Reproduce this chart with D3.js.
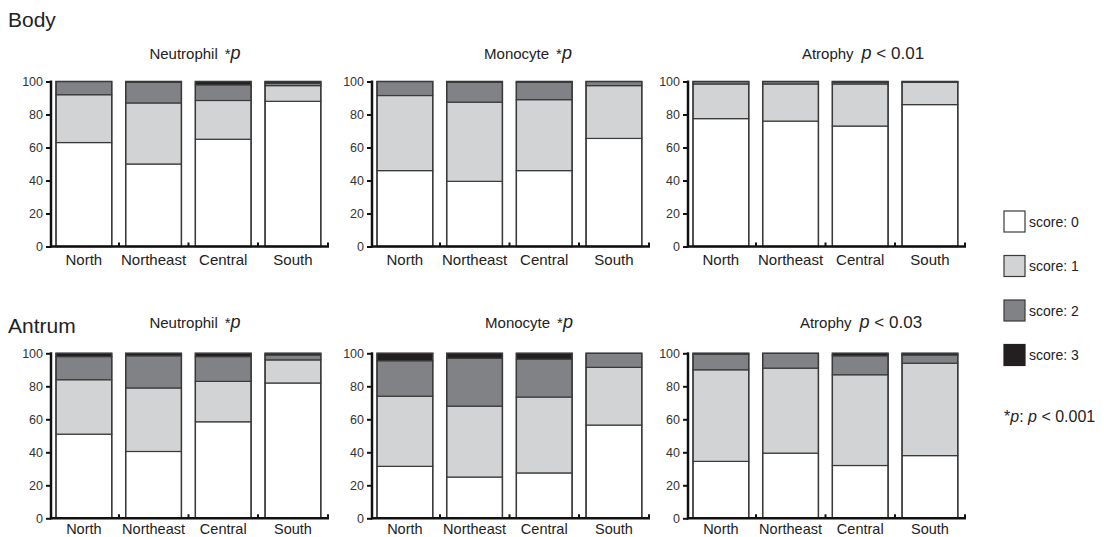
<!DOCTYPE html>
<html>
<head>
<meta charset="utf-8">
<script src="https://cdn.jsdelivr.net/npm/d3@7"></script>
<style>
  body { margin: 0; background: #fff; }
  svg { display: block; font-family: "Liberation Sans", Arial, sans-serif; }
</style>
</head>
<body>
<svg id="chart" width="1104" height="537"></svg>
<script>
// categories and series
const regions = ["North", "Northeast", "Central", "South"];
const scoreKeys = ["s0", "s1", "s2", "s3"];
const scoreLabels = ["score: 0", "score: 1", "score: 2", "score: 3"];
const scoreColors = ["#ffffff", "#d1d3d4", "#808285", "#231f20"];
const yTicks = [0, 20, 40, 60, 80, 100];

// percent per region: [score0, score1, score2, score3]
const bodyNeutrophil = [[63, 29, 8, 0], [50, 37, 12.5, 0.5], [65, 23.5, 9.5, 2], [88, 9.5, 1.5, 1]];
const bodyMonocyte   = [[46, 45.5, 8.5, 0], [39.5, 48, 12, 0.5], [46, 43, 10.5, 0.5], [65.5, 32, 2.5, 0]];
const bodyAtrophy    = [[77.5, 21, 1.5, 0], [76, 22.5, 1.5, 0], [73, 25.5, 1, 0.5], [86, 13.5, 0.5, 0]];
const antrumNeutrophil = [[51, 33, 14, 2], [40.5, 38.5, 19.5, 1.5], [58.5, 24.5, 15, 2], [82, 14, 3, 1]];
const antrumMonocyte   = [[31.5, 42.5, 21.5, 4.5], [25, 43, 29, 3], [27.5, 46, 23, 3.5], [56.5, 35, 8.5, 0]];
const antrumAtrophy    = [[34.5, 55.5, 9.5, 0.5], [39.5, 51.5, 9, 0], [32, 55, 11.5, 1.5], [38, 56, 5, 1]];

const svg = d3.select("#chart");

// panel layout
const colX = [51, 372, 688];
const rowY0 = [246.5, 518.3];
const plotH = 165;
const plotW = 278;

const panels = [
  {data: bodyNeutrophil, col: 0, row: 0, name: "Neutrophil", stat: "*p", tx: 195},
  {data: bodyMonocyte, col: 1, row: 0, name: "Monocyte", stat: "*p", tx: 528},
  {data: bodyAtrophy, col: 2, row: 0, name: "Atrophy", stat: "p < 0.01", tx: 863},
  {data: antrumNeutrophil, col: 0, row: 1, name: "Neutrophil", stat: "*p", tx: 195},
  {data: antrumMonocyte, col: 1, row: 1, name: "Monocyte", stat: "*p", tx: 529},
  {data: antrumAtrophy, col: 2, row: 1, name: "Atrophy", stat: "p < 0.03", tx: 861}
];

const stack = d3.stack().keys(scoreKeys);

panels.forEach(p => {
  const x0 = colX[p.col];
  const yBase = rowY0[p.row];
  const g = svg.append("g");

  // bars ~55.7 wide on a 69.7 step
  const x = d3.scaleBand()
    .domain(regions)
    .range([x0 + 5, x0 + 5 + 3 * 69.7 + 55.7])
    .paddingInner(0.2)
    .paddingOuter(0);

  const y = d3.scaleLinear().domain([0, 100]).range([yBase, yBase - plotH]);

  const rows = p.data.map((v, i) => ({region: regions[i], s0: v[0], s1: v[1], s2: v[2], s3: v[3]}));
  const series = stack(rows);

  series.forEach((s, si) => {
    g.selectAll(null)
      .data(s)
      .join("rect")
      .attr("x", d => x(d.data.region))
      .attr("width", x.bandwidth())
      .attr("y", d => y(d[1]))
      .attr("height", d => Math.max(0, y(d[0]) - y(d[1])))
      .attr("fill", scoreColors[si])
      .attr("stroke", "#3a3a3a")
      .attr("stroke-width", d => (d[1] - d[0]) > 0.01 ? 1.2 : 0);
  });

  // bar outlines
  g.selectAll(null)
    .data(rows)
    .join("rect")
    .attr("x", d => x(d.region))
    .attr("width", x.bandwidth())
    .attr("y", y(100))
    .attr("height", y(0) - y(100))
    .attr("fill", "none")
    .attr("stroke", "#3a3a3a")
    .attr("stroke-width", 1.4);

  // y axis
  const yAxis = d3.axisLeft(y).tickValues(yTicks).tickSize(5).tickPadding(3);
  const ya = g.append("g").attr("transform", `translate(${x0},0)`).call(yAxis);
  ya.select(".domain").remove();
  ya.selectAll(".tick line").attr("stroke", "#111").attr("stroke-width", 2);
  ya.selectAll(".tick text").attr("font-size", 12.5).attr("fill", "#333")
    .attr("font-family", "Liberation Sans, Arial, sans-serif");
  g.append("line")
    .attr("x1", x0).attr("x2", x0)
    .attr("y1", y(100) - 1).attr("y2", y(0) + 1)
    .attr("stroke", "#111").attr("stroke-width", 2.5);

  // x axis baseline with small upward ticks between bars
  g.append("line")
    .attr("x1", x0 - 1).attr("x2", x0 + plotW)
    .attr("y1", y(0)).attr("y2", y(0))
    .attr("stroke", "#111").attr("stroke-width", 2.5);
  g.selectAll(null)
    .data(regions)
    .join("line")
    .attr("x1", (d, i) => x0 + (i + 1) * 69.5 - 1.5 + (i === 3 ? 0.5 : 0))
    .attr("x2", (d, i) => x0 + (i + 1) * 69.5 - 1.5 + (i === 3 ? 0.5 : 0))
    .attr("y1", y(0))
    .attr("y2", y(0) - 4)
    .attr("stroke", "#111").attr("stroke-width", 2);

  // category labels
  g.selectAll(null)
    .data(regions)
    .join("text")
    .attr("x", d => x(d) + x.bandwidth() / 2)
    .attr("y", y(0) + (p.row === 0 ? 18.5 : 15.2))
    .attr("text-anchor", "middle")
    .attr("font-size", p.row === 0 ? 15 : 14.5)
    .attr("fill", "#222")
    .text(d => d);

  // title
  const t = g.append("text")
    .attr("x", p.tx)
    .attr("y", p.row === 0 ? 59 : 327.5)
    .attr("text-anchor", "middle")
    .attr("fill", "#222");
  t.append("tspan").attr("font-size", 15).text(p.name);
  if (p.stat === "*p") {
    t.append("tspan").attr("font-size", 15).attr("dx", 7).text("*");
    t.append("tspan").attr("font-size", 18).attr("font-style", "italic").text("p");
  } else {
    t.append("tspan").attr("font-size", 18).attr("font-style", "italic").attr("dx", 8).text("p");
    t.append("tspan").attr("font-size", 17).text(" " + p.stat.slice(2));
  }
});

// row labels
svg.append("text").attr("x", 8).attr("y", 27).attr("font-size", 21).attr("fill", "#222").text("Body");
svg.append("text").attr("x", 8).attr("y", 333).attr("font-size", 21).attr("fill", "#222").text("Antrum");

// legend
const legend = svg.append("g").attr("transform", "translate(1004,211)");
const lg = legend.selectAll("g")
  .data(scoreLabels)
  .join("g")
  .attr("transform", (d, i) => `translate(0,${i * 44.5})`);
lg.append("rect")
  .attr("width", 21).attr("height", 21)
  .attr("fill", (d, i) => scoreColors[i])
  .attr("stroke", (d, i) => i === 3 ? scoreColors[3] : "#3a3a3a")
  .attr("stroke-width", 1.2);
lg.append("text")
  .attr("x", 25).attr("y", 15.5)
  .attr("font-size", 14)
  .attr("fill", "#222")
  .text(d => d);

const note = svg.append("text").attr("x", 1004).attr("y", 422).attr("font-size", 16).attr("fill", "#222");
note.append("tspan").text("*");
note.append("tspan").attr("font-style", "italic").text("p");
note.append("tspan").text(": ");
note.append("tspan").attr("font-style", "italic").text("p");
note.append("tspan").text(" < 0.001");
</script>
</body>
</html>
